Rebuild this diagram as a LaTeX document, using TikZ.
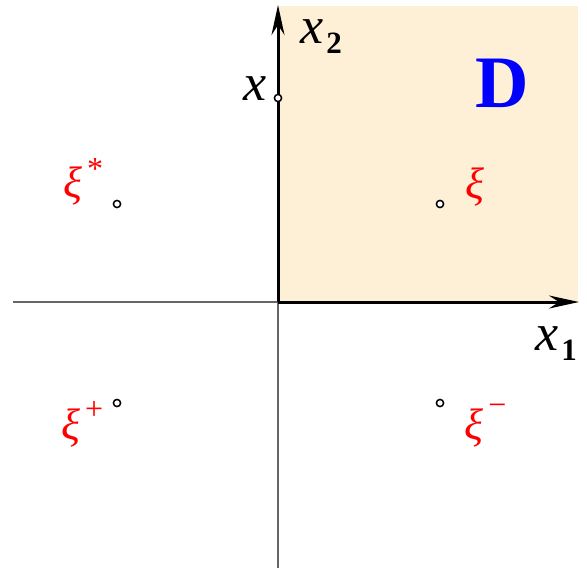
\documentclass[tikz,border=0pt]{standalone}
\usepackage{fontspec}
\setmainfont{Liberation Serif}
\usetikzlibrary{arrows.meta,positioning}
\definecolor{regioncol}{HTML}{FDF0D6}
\definecolor{thinaxis}{HTML}{666666}
\newcommand{\upidx}[2]{\hspace{2.5pt}\raisebox{#1}{\fontsize{16}{16}\selectfont\upshape #2}}
\newcommand{\lowidx}[1]{\hspace{1.5pt}\raisebox{-5pt}{\fontsize{15.5}{15.5}\selectfont\upshape\bfseries #1}}

\begin{document}
\begin{tikzpicture}[x=0.5pt,y=-0.5pt,
  pt/.style={circle,draw,fill=white,line width=0.75pt,inner sep=0pt,minimum size=3.6pt},
  xilab/.style={red,anchor=base west,inner sep=0pt,font=\fontsize{22}{22}\selectfont\itshape},
  axlab/.style={anchor=base west,inner sep=0pt,font=\fontsize{26}{26}\selectfont\itshape}]
  \useasboundingbox (0,0) rectangle (587,570);
  % The quarter plane D
  \fill[regioncol] (278,6) rectangle (578,302);
  \node[blue,anchor=base west,inner sep=0pt,font=\fontsize{37}{37}\selectfont\bfseries] (D) at (475,107) {D};
  % Axes: thin outside D, thick on its boundary
  \coordinate (O) at (278,302);
  \coordinate (xleft) at (13,302);
  \coordinate (xright) at (579,302);
  \coordinate (ybot) at (278,568);
  \coordinate (ytop) at (278,5);
  \draw[thinaxis, line width=0.8pt] (xleft) -- (O);
  \draw[thinaxis, line width=0.8pt] (ybot) -- (O);
  \draw[line width=1.5pt, -{Stealth[length=15pt,width=6.5pt,inset=5pt]}] (O) -- (xright);
  \draw[line width=1.5pt, -{Stealth[length=15pt,width=6.5pt,inset=5pt]}] (O) -- (ytop);
  \node[axlab] (x1) at (535,350) {x\lowidx{1}};
  \node[axlab] (x2) at (300,43) {x\lowidx{2}};
  % The point x on the x_2 axis
  \node[pt] (x) at (278,98) {};
  \node[axlab] (xlab) at (243,100) {x};
  % The point xi and its images
  \node[pt] (xi) at (440,204) {};
  \node[pt] (xistar) at (117,204) {};
  \node[pt] (xiplus) at (117,403) {};
  \node[pt] (ximinus) at (440,403) {};
  \node[xilab] (xilab) at (465,198) {ξ};
  \node[xilab] (xistarlab) at (63,197) {ξ\upidx{9pt}{*}};
  \node[xilab] (xipluslab) at (61,439) {ξ\upidx{10pt}{+}};
  \node[xilab] (ximinuslab) at (464,439) {ξ\upidx{12pt}{−}};
\end{tikzpicture}
\end{document}
